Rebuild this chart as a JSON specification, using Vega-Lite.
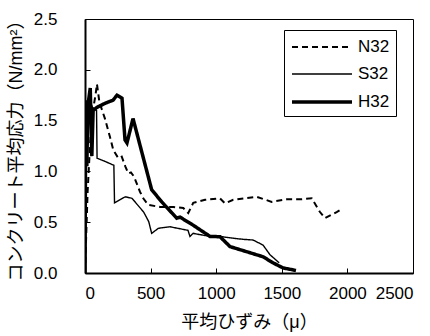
{
  "$schema": "https://vega.github.io/schema/vega-lite/v6.json",
  "autosize": {"type": "none"},
  "width": 328,
  "height": 254,
  "padding": {"left": 85, "top": 19, "right": 17, "bottom": 63},
  "background": "white",
  "config": {
    "font": "Liberation Sans, Noto Sans CJK JP",
    "view": {"stroke": "black", "strokeWidth": 1},
    "axis": {
      "grid": false,
      "domainColor": "black",
      "domainWidth": 2,
      "tickColor": "black",
      "tickWidth": 1,
      "tickSize": -5,
      "labelColor": "black",
      "labelFont": "Liberation Sans",
      "labelFontSize": 17,
      "titleColor": "black",
      "titleFont": "Liberation Sans, Noto Sans CJK JP",
      "titleFontSize": 18,
      "titleFontWeight": "normal"
    },
    "legend": {
      "labelFont": "Liberation Sans",
      "labelFontSize": 17,
      "labelColor": "black"
    }
  },
  "data": {
    "values": [
      {"s": "N32", "x": 0, "y": 0},
      {"s": "N32", "x": 20, "y": 0.8},
      {"s": "N32", "x": 40, "y": 1.3},
      {"s": "N32", "x": 60, "y": 1.6},
      {"s": "N32", "x": 80, "y": 1.75},
      {"s": "N32", "x": 91, "y": 1.86},
      {"s": "N32", "x": 110, "y": 1.68},
      {"s": "N32", "x": 152, "y": 1.52},
      {"s": "N32", "x": 190, "y": 1.34},
      {"s": "N32", "x": 216, "y": 1.21},
      {"s": "N32", "x": 254, "y": 1.13},
      {"s": "N32", "x": 280, "y": 1.145},
      {"s": "N32", "x": 307, "y": 1.05},
      {"s": "N32", "x": 330, "y": 0.98},
      {"s": "N32", "x": 350, "y": 0.99},
      {"s": "N32", "x": 373, "y": 0.95},
      {"s": "N32", "x": 419, "y": 0.8},
      {"s": "N32", "x": 444, "y": 0.735},
      {"s": "N32", "x": 482, "y": 0.67},
      {"s": "N32", "x": 572, "y": 0.65},
      {"s": "N32", "x": 673, "y": 0.65},
      {"s": "N32", "x": 749, "y": 0.64},
      {"s": "N32", "x": 787, "y": 0.59},
      {"s": "N32", "x": 825, "y": 0.69},
      {"s": "N32", "x": 915, "y": 0.72},
      {"s": "N32", "x": 1029, "y": 0.735},
      {"s": "N32", "x": 1067, "y": 0.686},
      {"s": "N32", "x": 1130, "y": 0.72},
      {"s": "N32", "x": 1309, "y": 0.75},
      {"s": "N32", "x": 1423, "y": 0.7},
      {"s": "N32", "x": 1537, "y": 0.725},
      {"s": "N32", "x": 1639, "y": 0.725},
      {"s": "N32", "x": 1728, "y": 0.735},
      {"s": "N32", "x": 1791, "y": 0.6},
      {"s": "N32", "x": 1829, "y": 0.54},
      {"s": "N32", "x": 1918, "y": 0.6},
      {"s": "N32", "x": 1945, "y": 0.62},
      {"s": "S32", "x": 0, "y": 0},
      {"s": "S32", "x": 10, "y": 1.3},
      {"s": "S32", "x": 30, "y": 1.72},
      {"s": "S32", "x": 60, "y": 1.62},
      {"s": "S32", "x": 88, "y": 1.6},
      {"s": "S32", "x": 92, "y": 1.13},
      {"s": "S32", "x": 150, "y": 1.1},
      {"s": "S32", "x": 220, "y": 1.06},
      {"s": "S32", "x": 225, "y": 0.69},
      {"s": "S32", "x": 307, "y": 0.75},
      {"s": "S32", "x": 358, "y": 0.735},
      {"s": "S32", "x": 447, "y": 0.6},
      {"s": "S32", "x": 486, "y": 0.505},
      {"s": "S32", "x": 508, "y": 0.39},
      {"s": "S32", "x": 559, "y": 0.44},
      {"s": "S32", "x": 648, "y": 0.455},
      {"s": "S32", "x": 785, "y": 0.42},
      {"s": "S32", "x": 800, "y": 0.36},
      {"s": "S32", "x": 824, "y": 0.39},
      {"s": "S32", "x": 953, "y": 0.36},
      {"s": "S32", "x": 1029, "y": 0.36},
      {"s": "S32", "x": 1143, "y": 0.34},
      {"s": "S32", "x": 1220, "y": 0.33},
      {"s": "S32", "x": 1280, "y": 0.325},
      {"s": "S32", "x": 1357, "y": 0.275},
      {"s": "S32", "x": 1410, "y": 0.18},
      {"s": "S32", "x": 1480, "y": 0.1},
      {"s": "H32", "x": 0, "y": 0},
      {"s": "H32", "x": 6, "y": 1.7},
      {"s": "H32", "x": 14, "y": 1.05},
      {"s": "H32", "x": 22, "y": 1.65},
      {"s": "H32", "x": 40, "y": 1.82},
      {"s": "H32", "x": 52, "y": 1.15},
      {"s": "H32", "x": 62, "y": 1.6},
      {"s": "H32", "x": 91, "y": 1.63},
      {"s": "H32", "x": 152, "y": 1.67},
      {"s": "H32", "x": 190, "y": 1.69},
      {"s": "H32", "x": 213, "y": 1.7},
      {"s": "H32", "x": 244, "y": 1.75},
      {"s": "H32", "x": 282, "y": 1.72},
      {"s": "H32", "x": 305, "y": 1.31},
      {"s": "H32", "x": 320, "y": 1.28},
      {"s": "H32", "x": 366, "y": 1.52},
      {"s": "H32", "x": 508, "y": 0.82},
      {"s": "H32", "x": 585, "y": 0.7},
      {"s": "H32", "x": 699, "y": 0.54},
      {"s": "H32", "x": 724, "y": 0.55},
      {"s": "H32", "x": 825, "y": 0.47},
      {"s": "H32", "x": 953, "y": 0.36},
      {"s": "H32", "x": 1029, "y": 0.357},
      {"s": "H32", "x": 1105, "y": 0.26},
      {"s": "H32", "x": 1357, "y": 0.16},
      {"s": "H32", "x": 1433, "y": 0.1},
      {"s": "H32", "x": 1509, "y": 0.05},
      {"s": "H32", "x": 1608, "y": 0.025}
    ]
  },
  "mark": {"type": "line", "color": "black", "clip": true},
  "encoding": {
    "x": {
      "field": "x",
      "type": "quantitative",
      "scale": {"domain": [0, 2500], "nice": false},
      "axis": {
        "values": [0, 500, 1000, 1500, 2000, 2500],
        "format": "d",
        "labelPadding": 17,
        "title": "平均ひずみ（μ）",
        "titleBaseline": "alphabetic",
        "titleY": 54
      }
    },
    "y": {
      "field": "y",
      "type": "quantitative",
      "scale": {"domain": [0, 2.5], "nice": false},
      "axis": {
        "values": [0, 0.5, 1, 1.5, 2, 2.5],
        "format": ".1f",
        "labelPadding": 33,
        "title": "コンクリート平均応力（N/mm²）",
        "titleX": -60,
        "titleY": 127,
        "titleAngle": -90,
        "titleBaseline": "bottom",
        "titleAlign": "center"
      }
    },
    "strokeDash": {
      "field": "s",
      "type": "nominal",
      "scale": {"type": "ordinal", "domain": ["N32", "S32", "H32"], "range": [[6, 4], [1, 0], [1, 0]]},
      "legend": {
        "title": null,
        "orient": "none",
        "legendX": 199,
        "legendY": 11,
        "strokeColor": "black",
        "fillColor": "white",
        "padding": 6,
        "symbolType": "M-1,0H5",
        "symbolSize": 400,
        "symbolStrokeColor": "black",
        "rowPadding": 8,
        "labelOffset": 44
      }
    },
    "strokeWidth": {
      "field": "s",
      "type": "nominal",
      "scale": {"type": "ordinal", "domain": ["N32", "S32", "H32"], "range": [2, 1.4, 3.5]},
      "legend": {
        "title": null,
        "orient": "none",
        "legendX": 199,
        "legendY": 11,
        "strokeColor": "black",
        "fillColor": "white",
        "padding": 6,
        "symbolType": "M-1,0H5",
        "symbolSize": 400,
        "symbolStrokeColor": "black",
        "rowPadding": 8,
        "labelOffset": 44
      }
    }
  }
}
